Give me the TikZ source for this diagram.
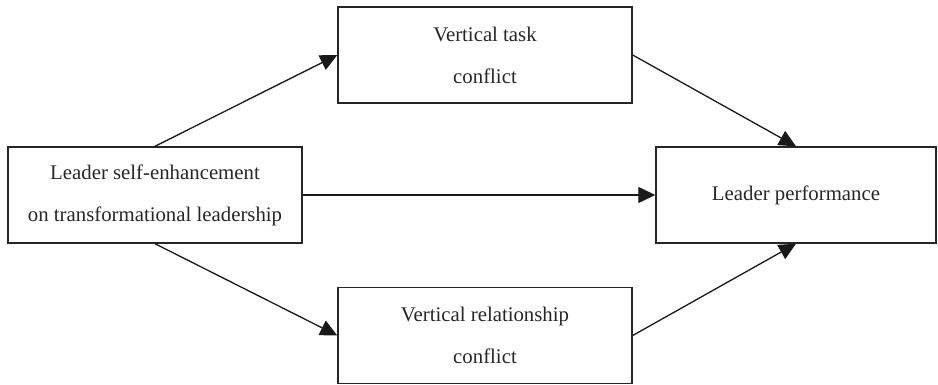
\documentclass[tikz,border=0pt]{standalone}
\usepackage{fontspec}
\setmainfont{Liberation Serif}
\usetikzlibrary{arrows.meta}

\tikzset{
    varbox/.style={draw=black!85, line width=0.7pt, align=center, inner sep=0pt,
        minimum width=147pt, minimum height=48pt,
        font=\fontsize{10.4}{21}\selectfont, text=black!85},
    path/.style={draw=black!90, line width=0.65pt,
        -{Triangle[length=8.5pt, width=8pt]}}
}

\begin{document}
\begin{tikzpicture}[x=0.5pt, y=-0.5pt]
    % Fix the page size
    \useasboundingbox (0,0) rectangle (938,385);

    % Define box centres
    \coordinate (pLeft) at (155,195);
    \coordinate (pTask) at (485,55);
    \coordinate (pRel) at (485,335.5);
    \coordinate (pPerf) at (796,195);

    % Draw the four boxes
    \node[varbox] (enh) at (pLeft) {Leader self-enhancement\\on transformational leadership};
    \node[varbox] (task) at (pTask) {Vertical task\\conflict};
    \node[varbox] (rel) at (pRel) {Vertical relationship\\conflict};
    \node[varbox, minimum width=140pt] (perf) at (pPerf) {Leader performance};

    % Draw the arrows
    \draw[path] (enh.north) -- (task.west);
    \draw[path] (enh.south) -- (rel.west);
    \draw[path] (enh.east) -- (perf.west);
    \draw[path] (task.east) -- (perf.north);
    \draw[path] (rel.east) -- (perf.south);

\end{tikzpicture}
\end{document}
